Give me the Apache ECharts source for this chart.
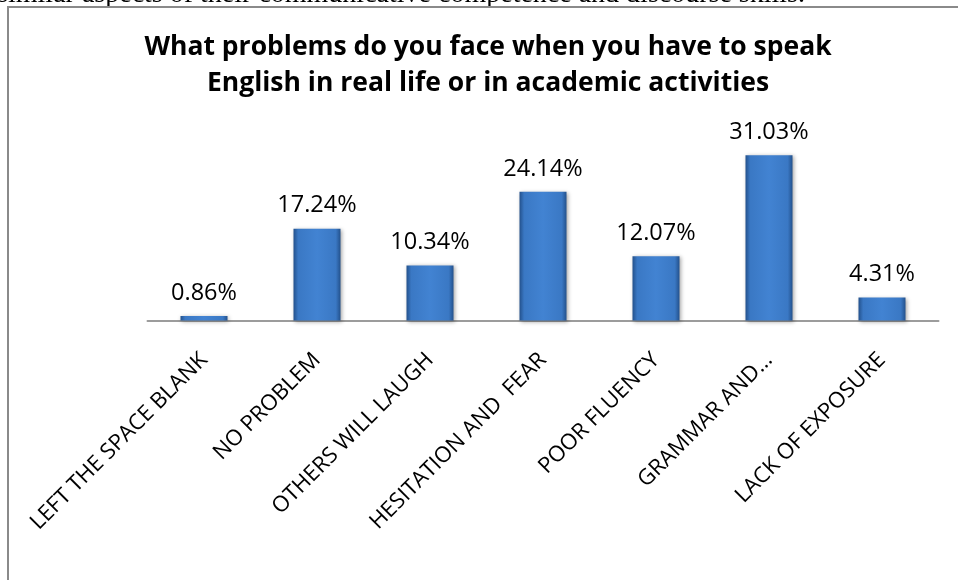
<!DOCTYPE html>
<html>
<head>
<meta charset="utf-8">
<script src="https://cdn.jsdelivr.net/npm/echarts@6/dist/echarts.min.js"></script>
<style>
  html, body { margin: 0; padding: 0; background: #ffffff; }
  #chart { width: 958px; height: 580px; }
</style>
</head>
<body>
<div id="chart"></div>
<script>
// Survey answers and the share of respondents for each
const categories = [
  'LEFT THE SPACE BLANK',
  'NO PROBLEM',
  'OTHERS WILL LAUGH',
  'HESITATION AND  FEAR',
  'POOR FLUENCY',
  'GRAMMAR AND\u2026',
  'LACK OF EXPOSURE'
];
const percentages = [0.86, 17.24, 10.34, 24.14, 12.07, 31.03, 4.31];

const titleLines = [
  'What problems do you face when you have to speak',
  'English in real life or in academic activities'
];
const precedingText = 'similar aspects of their communicative competence and discourse skills.';

const chart = echarts.init(document.getElementById('chart'), null, { renderer: 'canvas' });

// bevelled blue bars: darker rims, brighter face
const barFill = new echarts.graphic.LinearGradient(0, 0, 1, 0, [
  { offset: 0, color: '#23518c' },
  { offset: 0.1, color: '#3a78c4' },
  { offset: 0.5, color: '#4283d2' },
  { offset: 0.9, color: '#3a78c4' },
  { offset: 1, color: '#23518c' }
]);

chart.setOption({
  backgroundColor: '#ffffff',
  animation: false,
  graphic: [
    {
      type: 'text',
      x: 805,
      y: 9,
      style: {
        text: precedingText,
        align: 'right',
        verticalAlign: 'bottom',
        font: '28px "Liberation Serif", "DejaVu Serif", serif',
        fill: '#000000'
      },
      z: 1
    },
    {
      type: 'rect',
      shape: { x: 8, y: 7, width: 1000, height: 620 },
      style: { fill: '#ffffff', stroke: '#8a8a8a', lineWidth: 2 },
      z: 2
    },
    {
      type: 'text',
      x: 488,
      y: 65,
      style: {
        text: titleLines.join('\n'),
        align: 'center',
        verticalAlign: 'middle',
        lineHeight: 36,
        font: 'bold 26.5px "Open Sans", sans-serif',
        fill: '#000000'
      },
      z: 3
    }
  ],
  grid: { left: 147.5, right: 19.5, top: 134, bottom: 259.5, containLabel: false },
  xAxis: {
    type: 'category',
    data: categories,
    z: 5,
    axisLine: { show: true, lineStyle: { color: '#9c9c9c', width: 2 } },
    axisTick: { show: false },
    axisLabel: {
      interval: 0,
      rotate: 45,
      margin: 36,
      color: '#000000',
      fontFamily: 'Open Sans',
      fontSize: 22
    }
  },
  yAxis: {
    type: 'value',
    min: 0,
    max: 35,
    show: false,
    splitLine: { show: false }
  },
  series: [{
    type: 'bar',
    z: 5,
    data: percentages,
    barWidth: 47,
    itemStyle: {
      color: barFill,
      shadowColor: 'rgba(0,0,0,0.35)',
      shadowBlur: 4,
      shadowOffsetX: 1,
      shadowOffsetY: 1
    },
    label: {
      show: true,
      position: 'top',
      distance: 11,
      formatter: p => p.value.toFixed(2) + '%',
      color: '#000000',
      fontFamily: 'Open Sans',
      fontSize: 23.5
    }
  }]
});
</script>
</body>
</html>
